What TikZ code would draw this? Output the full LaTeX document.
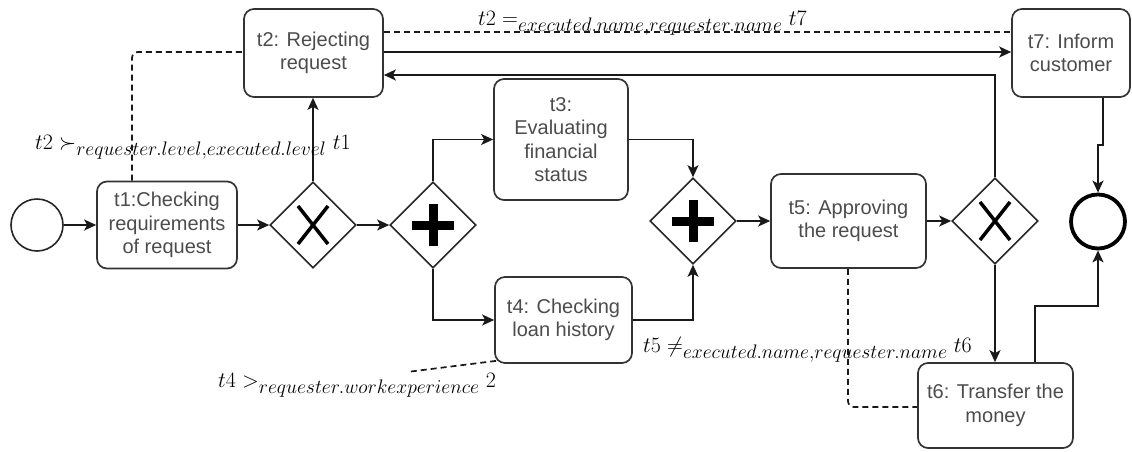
\IfFileExists{fix-cm.sty}{\RequirePackage{fix-cm}}{}
\documentclass[tikz,border=0pt]{standalone}
\usepackage{fontspec}
\newfontfamily\boxfont{Liberation Sans}
\DeclareMathSizes{22}{22}{19.6}{14}
\usetikzlibrary{arrows.meta,shapes.geometric}

\begin{document}
\begin{tikzpicture}[x=1pt,y=-1pt,
  task/.style={draw=black!80, line width=1.7pt, rounded corners=10pt, fill=white,
    align=center, font=\boxfont\fontsize{20}{23.5}\selectfont, text=black!70, inner sep=0pt},
  gate/.style={draw=black!85, line width=1.6pt, diamond, aspect=1,
    minimum width=86pt, minimum height=86pt, inner sep=0pt},
  flow/.style={line width=1.6pt, draw=black!90, -{Stealth[length=12pt,width=11pt,inset=3pt]}},
  assoc/.style={line width=1.7pt, draw=black!90, dash pattern=on 6pt off 4pt},
  xmark/.style={line width=3.5pt},
  cond/.style={font=\fontsize{22}{25}\selectfont, inner sep=0pt, anchor=base west}
]
\useasboundingbox (0,0) rectangle (1132,451);

% events
\node[circle, draw=black!85, line width=1.6pt, minimum size=52pt, inner sep=0pt] (start) at (37,225) {};
\node[circle, draw=black, line width=3.8pt, minimum size=54pt, inner sep=0pt] (end) at (1098,221.5) {};

% tasks
\node[task, minimum width=140pt, minimum height=87pt] (t1) at (167,225) {t1:Checking\\requirements\\of request};
\node[task, minimum width=139pt, minimum height=88pt] (t2) at (313.5,53) {t2: Rejecting\\request};
\node[task, minimum width=134pt, minimum height=121pt] (t3) at (561,139.5) {t3:\\Evaluating\\financial\\status};
\node[task, minimum width=137pt, minimum height=86pt] (t4) at (563.5,320) {t4: Checking\\loan history};
\node[task, minimum width=155pt, minimum height=94pt] (t5) at (848.5,221) {t5: Approving\\the request};
\node[task, minimum width=155pt, minimum height=85pt] (t6) at (995.5,405.5) {t6: Transfer the\\money};
\node[task, minimum width=118pt, minimum height=88pt] (t7) at (1071,53) {t7: Inform\\customer};

% gateways
\node[gate] (x1) at (313,225) {};
\node[gate] (p1) at (433,225) {};
\node[gate] (p2) at (693,221) {};
\node[gate] (x2) at (995,221) {};

% gateway markers
\draw[xmark] ([shift={(-15,-19)}]x1.center) -- ([shift={(15,19)}]x1.center)
             ([shift={(15,-19)}]x1.center) -- ([shift={(-15,19)}]x1.center);
\draw[xmark] ([shift={(-15,-19)}]x2.center) -- ([shift={(15,19)}]x2.center)
             ([shift={(15,-19)}]x2.center) -- ([shift={(-15,19)}]x2.center);
\foreach \g in {p1,p2}{
  \fill ([shift={(-21,-4.5)}]\g.center) rectangle ([shift={(21,4.5)}]\g.center);
  \fill ([shift={(-4.5,-21)}]\g.center) rectangle ([shift={(4.5,21)}]\g.center);
}

% helper points
\coordinate (back) at (995,75);
\coordinate (j7) at (1103,145);
\coordinate (k6) at (1035,306);
\coordinate (c4) at (407,372);

% sequence flows
\draw[flow] (start) -- (t1);
\draw[flow] (t1) -- (x1);
\draw[flow] (x1.north) -- (x1.north |- t2.south);
\draw[flow] (x1) -- (p1);
\draw[flow] (p1.north) |- (t3.west);
\draw[flow] (t3.east) -| (p2.north);
\draw[flow] (p1.south) |- (t4.west);
\draw[flow] (t4.east) -| (p2.south);
\draw[flow] (p2) -- (t5);
\draw[flow] (t5) -- (x2);
\draw[flow] (x2.north) -- (back) -- (back -| t2.east);
\draw[flow] ([yshift=1pt]t2.east) -- ([yshift=1pt]t7.west);
\draw[flow] (x2.south) -- (x2.south |- t6.north);
\draw[flow] (t7.south -| j7) -- (j7) -- (j7 -| end.north) -- (end.north);
\draw[flow] (t6.north -| k6) -- (k6) -| (end.south);

% constraint associations
\draw[assoc] ([yshift=21pt]t2.east) -- ([yshift=21pt]t7.west);
\draw[assoc, rounded corners=6pt] ([xshift=-35pt]t1.north) |- ([yshift=1pt]t2.west);
\draw[assoc, rounded corners=6pt] ([xshift=-0.5pt]t5.south) |- ([yshift=-1.5pt]t6.west);
\draw[assoc] ([shift={(2,-3)}]t4.south west) -- (c4);

% constraint labels
\node[cond] (l1) at (35,149) {$t2 \succ_{requester.level,executed.level} t1$};
\node[cond] (l2) at (478,25) {$t2 =_{executed.name,requester.name} t7$};
\node[cond] (l3) at (643,352) {$t5 \neq_{executed.name,requester.name} t6$};
\node[cond] (l4) at (218,387) {$t4 >_{requester.workexperience} 2$};
\end{tikzpicture}
\end{document}
